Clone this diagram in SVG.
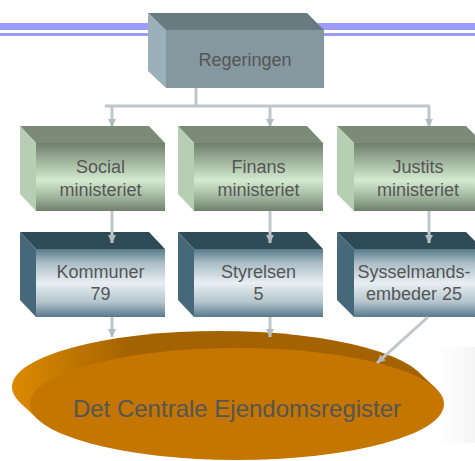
<svg xmlns="http://www.w3.org/2000/svg" width="475" height="461" viewBox="0 0 475 461">
<defs>
<style>
.t{font-family:"Liberation Sans",Arial,sans-serif;font-size:18px;fill:#555;text-anchor:middle}
.c{fill:none;stroke:#bfc6ca;stroke-width:3}
.gtop{fill:#7b8b78}.gleft{fill:#b6ceb2}.gfront{fill:url(#gGreen)}
.btop{fill:#2f4b55}.bleft{fill:#45697a}.bfront{fill:url(#gTeal)}
</style>
<linearGradient id="gGreen" x1="0" y1="0" x2="0" y2="1">
<stop offset="0" stop-color="#6f7f6c"/>
<stop offset="0.15" stop-color="#8a9c87"/>
<stop offset="0.55" stop-color="#d4ebd0"/>
<stop offset="0.85" stop-color="#95a892"/>
<stop offset="1" stop-color="#6f7f6c"/>
</linearGradient>
<linearGradient id="gTeal" x1="0" y1="0" x2="0" y2="1">
<stop offset="0" stop-color="#58798a"/>
<stop offset="0.2" stop-color="#a9bcc5"/>
<stop offset="0.5" stop-color="#e8eff2"/>
<stop offset="0.78" stop-color="#b4c5cd"/>
<stop offset="1" stop-color="#58798a"/>
</linearGradient>
<linearGradient id="gSide" gradientUnits="userSpaceOnUse" x1="12" y1="0" x2="130" y2="0">
<stop offset="0" stop-color="#dc8a00"/>
<stop offset="1" stop-color="#a46300"/>
</linearGradient>
<linearGradient id="gShade" x1="0" y1="0" x2="1" y2="0">
<stop offset="0" stop-color="#f7f7f7" stop-opacity="0"/>
<stop offset="1" stop-color="#f5f5f5"/>
</linearGradient>
<marker id="arr" markerWidth="10" markerHeight="10" refX="8" refY="5" orient="auto" markerUnits="userSpaceOnUse">
<path d="M0,1 L8,5 L0,9 Z" fill="#b3bbbf"/>
</marker>
</defs>
<rect width="475" height="461" fill="#fff"/>
<rect x="433" y="347" width="42" height="96" fill="url(#gShade)"/>
<rect x="0" y="23" width="475" height="7" fill="#9c9cfc"/>
<rect x="0" y="33" width="475" height="3" fill="#9c9cfc"/>

<g id="connectors">
<path class="c" d="M196,88 V106 M105,106 H430"/>
<line class="c" x1="112" y1="106" x2="112" y2="127" marker-end="url(#arr)"/>
<line class="c" x1="270" y1="106" x2="270" y2="127" marker-end="url(#arr)"/>
<line class="c" x1="429" y1="106" x2="429" y2="127" marker-end="url(#arr)"/>
</g>

<g id="regeringen">
<polygon points="148,13 307,13 324,30 166,30" fill="#677b81"/>
<polygon points="148,13 166,30 166,88 148,71" fill="#9bb0b8"/>
<rect x="166" y="30" width="158" height="58" fill="#85989f"/>
<text class="t" x="245" y="66">Regeringen</text>
</g>

<g id="socialministeriet">
<polygon class="gtop" points="20,126 149,126 165,143 36,143"/>
<polygon class="gleft" points="20,126 36,143 36,211 20,194"/>
<rect class="gfront" x="36" y="143" width="129" height="68"/>
<text class="t" x="100.5" y="173">Social</text>
<text class="t" x="100.5" y="196">ministeriet</text>
</g>
<g id="finansministeriet">
<polygon class="gtop" points="178,126 307,126 323,143 194,143"/>
<polygon class="gleft" points="178,126 194,143 194,211 178,194"/>
<rect class="gfront" x="194" y="143" width="129" height="68"/>
<text class="t" x="258.5" y="173">Finans</text>
<text class="t" x="258.5" y="196">ministeriet</text>
</g>
<g id="justitsministeriet">
<polygon class="gtop" points="337,126 466,126 483,143 354,143"/>
<polygon class="gleft" points="337,126 354,143 354,211 337,194"/>
<rect class="gfront" x="354" y="143" width="129" height="68"/>
<text class="t" x="418" y="173">Justits</text>
<text class="t" x="418" y="196">ministeriet</text>
</g>

<g id="kommuner">
<polygon class="btop" points="20,232 149,232 165,249 36,249"/>
<polygon class="bleft" points="20,232 36,249 36,317 20,300"/>
<rect class="bfront" x="36" y="249" width="129" height="68"/>
<text class="t" x="100.5" y="278">Kommuner</text>
<text class="t" x="100.5" y="300">79</text>
</g>
<g id="styrelsen">
<polygon class="btop" points="178,232 307,232 323,249 194,249"/>
<polygon class="bleft" points="178,232 194,249 194,317 178,300"/>
<rect class="bfront" x="194" y="249" width="129" height="68"/>
<text class="t" x="258.5" y="278">Styrelsen</text>
<text class="t" x="258.5" y="300">5</text>
</g>
<g id="sysselmandsembeder">
<polygon class="btop" points="337,232 466,232 483,249 354,249"/>
<polygon class="bleft" points="337,232 354,249 354,317 337,300"/>
<rect class="bfront" x="354" y="249" width="129" height="68"/>
<text class="t" x="414" y="278">Sysselmands-</text>
<text class="t" x="414" y="300">embeder 25</text>
</g>

<g id="register">
<ellipse cx="219" cy="387" rx="207" ry="56" fill="url(#gSide)"/>
<polygon points="20,402.4 38,419.4 436,388.6 418,371.6" fill="url(#gSide)"/>
<ellipse cx="237" cy="404" rx="207" ry="56" fill="#c47600"/>
<text x="237" y="417" style="font-family:'Liberation Sans',Arial,sans-serif;font-size:24px;fill:#555;text-anchor:middle">Det Centrale Ejendomsregister</text>
</g>

<g id="connectors2">
<line class="c" x1="112" y1="211" x2="112" y2="243" marker-end="url(#arr)"/>
<line class="c" x1="270" y1="211" x2="270" y2="243" marker-end="url(#arr)"/>
<line class="c" x1="429" y1="211" x2="429" y2="243" marker-end="url(#arr)"/>
<line class="c" x1="112" y1="317" x2="112" y2="337" marker-end="url(#arr)"/>
<line class="c" x1="270" y1="317" x2="270" y2="337" marker-end="url(#arr)"/>
<line class="c" x1="428" y1="317" x2="377" y2="363" marker-end="url(#arr)"/>
</g>
</svg>
